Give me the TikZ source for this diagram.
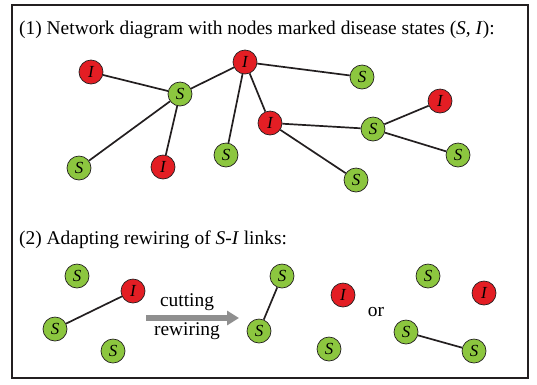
\documentclass[tikz,border=0pt]{standalone}
\usepackage{fontspec}
\setmainfont{Liberation Serif}
\usetikzlibrary{arrows.meta}
\definecolor{infred}{HTML}{E31E24}
\definecolor{susgreen}{HTML}{8CC63F}
\definecolor{edgec}{HTML}{231F20}
\definecolor{arrgray}{HTML}{8F8F8F}
\begin{document}
\begin{tikzpicture}[x=1bp,y=-1bp,
  stnode/.style={circle,draw=edgec,line width=0.7bp,minimum size=24bp,inner sep=0pt,font=\fontsize{17}{17}\selectfont\itshape},
  snode/.style={stnode,fill=susgreen},
  inode/.style={stnode,fill=infred},
  link/.style={draw=edgec,line width=1.7bp},
  ttl/.style={anchor=west,inner sep=0pt,font=\fontsize{19.5}{22}\selectfont},
  lbl/.style={inner sep=0pt,font=\fontsize{19.5}{22}\selectfont}]
\useasboundingbox (0,0) rectangle (537,384);
\draw[edgec,line width=2bp] (12,5) rectangle (528,378);
\node[ttl] (t1) at (19,30) {(1) Network diagram with nodes marked disease states (\textit{S}, \textit{I}):};
% part 1 nodes
\node[inode] (a) at (91,72) {I};
\node[snode] (b) at (180,94) {S};
\node[inode] (c) at (245,62) {I};
\node[snode] (d) at (79,168) {S};
\node[inode] (e) at (163,167) {I};
\node[snode] (f) at (226,155) {S};
\node[snode] (g) at (362,77) {S};
\node[inode] (h) at (270,123) {I};
\node[snode] (k) at (373,129) {S};
\node[inode] (m) at (440,101) {I};
\node[snode] (n) at (458,155) {S};
\node[snode] (p) at (356,180) {S};
\path[link] (a) -- (b) (b) -- (c) (b) -- (d) (b) -- (e) (c) -- (g) (c) -- (f) (c) -- (h) (h) -- (k) (h) -- (p) (k) -- (m) (k) -- (n);
% part 2
\node[ttl] (t2) at (19,240) {(2) Adapting rewiring of \textit{S}-\textit{I} links:};
\node[snode] (q1) at (77,276) {S};
\node[inode] (q2) at (133,291) {I};
\node[snode] (q3) at (55,329) {S};
\node[snode] (q4) at (113,351) {S};
\path[link] (q2) -- (q3);
\coordinate (ar1) at (146,318);
\coordinate (ar2) at (239,318);
\draw[arrgray,line width=6bp,-{Triangle[length=12bp,width=14bp]}] (ar1) -- (ar2);
\node[lbl] (cut) at (187,302) {cutting};
\node[lbl] (rew) at (187,331) {rewiring};
\node[snode] (r1) at (282,276) {S};
\node[snode] (r2) at (259,331) {S};
\node[inode] (r3) at (343,295) {I};
\node[snode] (r4) at (329,349) {S};
\path[link] (r1) -- (r2);
\node[lbl] (or) at (376,312) {or};
\node[snode] (s1) at (428,276) {S};
\node[inode] (s2) at (484,293) {I};
\node[snode] (s3) at (406,332) {S};
\node[snode] (s4) at (474,351) {S};
\path[link] (s3) -- (s4);
\end{tikzpicture}
\end{document}
